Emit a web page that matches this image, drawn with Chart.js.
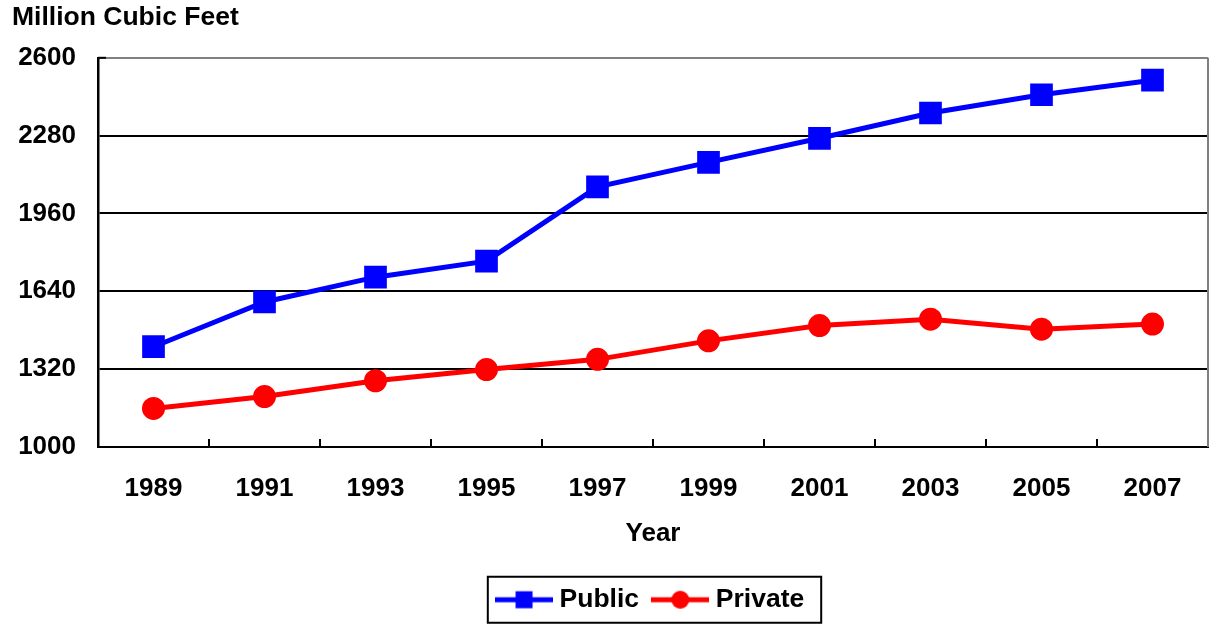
<!DOCTYPE html>
<html>
<head>
<meta charset="utf-8">
<script src="https://cdn.jsdelivr.net/npm/chart.js@4.4.0/dist/chart.umd.min.js"></script>
<style>
    html, body { margin: 0; padding: 0; background: #fff; }
</style>
</head>
<body>
<canvas id="chart" width="1209" height="624"></canvas>
<script>
// =====================================================
// DATA
// =====================================================
const years = ['1989', '1991', '1993', '1995', '1997', '1999', '2001', '2003', '2005', '2007'];
const publicValues = [1412, 1596, 1698, 1764, 2069, 2170, 2269, 2373, 2448, 2508];
const privateValues = [1158, 1207, 1272, 1318, 1360, 1436, 1499, 1525, 1484, 1505];
const yMin = 1000;
const yMax = 2600;
const yStep = 320;

const FONT = 'Liberation Sans, Arial, sans-serif';

// small canvas with line + marker, used as legend symbol
function legendSample(color, shape) {
    let c = document.createElement('canvas');
    c.width = 58;
    c.height = 20;
    let ctx = c.getContext('2d');
    ctx.strokeStyle = color;
    ctx.fillStyle = color;
    ctx.lineWidth = 5;
    ctx.beginPath();
    ctx.moveTo(0, 10);
    ctx.lineTo(58, 10);
    ctx.stroke();
    if (shape === 'rect') {
        ctx.fillRect(20.5, 1.5, 17, 17);
    } else {
        ctx.beginPath();
        ctx.arc(29, 10, 9, 0, Math.PI * 2);
        ctx.fill();
    }
    return c;
}

// =====================================================
// FRAME: gray right border, inside tick marks, legend box
// =====================================================
const framePlugin = {
    id: 'frame',
    beforeDatasetsDraw(chart) {
        let ctx = chart.ctx;
        let area = chart.chartArea;
        let x = chart.scales.x;
        let y = chart.scales.y;

        ctx.save();
        ctx.strokeStyle = '#808080';
        ctx.lineWidth = 2;
        ctx.beginPath();
        ctx.moveTo(area.right, area.top);
        ctx.lineTo(area.right, area.bottom);
        ctx.stroke();

        ctx.strokeStyle = '#000';
        ctx.lineWidth = 2;
        let half = (x.getPixelForTick(1) - x.getPixelForTick(0)) / 2;
        for (let i = 1; i < years.length; i++) {
            let px = x.getPixelForTick(i) - half;
            ctx.beginPath();
            ctx.moveTo(px, area.bottom);
            ctx.lineTo(px, area.bottom - 8);
            ctx.stroke();
        }
        let top = y.getPixelForValue(yMax);
        ctx.beginPath();
        ctx.moveTo(area.left, top);
        ctx.lineTo(area.left + 8, top);
        ctx.stroke();
        ctx.restore();
    },
    afterDraw(chart) {
        let boxes = chart.legend.legendHitBoxes;
        if (!boxes || !boxes.length) return;
        let first = boxes[0];
        let last = boxes[boxes.length - 1];
        let cy = first.top + first.height / 2;
        let ctx = chart.ctx;
        ctx.save();
        ctx.strokeStyle = '#000';
        ctx.lineWidth = 2;
        ctx.strokeRect(first.left - 14, cy - 23, last.left + last.width + 17 - (first.left - 14), 46);
        ctx.restore();
    }
};

// =====================================================
// CHART
// =====================================================
new Chart(document.getElementById('chart'), {
    type: 'line',
    data: {
        labels: years,
        datasets: [
            {
                label: 'Public',
                data: publicValues,
                borderColor: '#0000FF',
                backgroundColor: '#0000FF',
                borderWidth: 5,
                pointStyle: 'rect',
                pointRadius: 12.5,
                pointHoverRadius: 12.5,
                tension: 0
            },
            {
                label: 'Private',
                data: privateValues,
                borderColor: '#FF0000',
                backgroundColor: '#FF0000',
                borderWidth: 5,
                pointStyle: 'circle',
                pointRadius: 9,
                pointHoverRadius: 9,
                tension: 0
            }
        ]
    },
    options: {
        responsive: false,
        animation: false,
        devicePixelRatio: 1,
        layout: {
            autoPadding: false,
            padding: { left: 12, right: 1, top: 0, bottom: 1 }
        },
        plugins: {
            title: {
                display: true,
                text: 'Million Cubic Feet',
                align: 'start',
                color: '#000',
                font: { family: FONT, size: 26.5, weight: 'bold' },
                padding: { top: 2, bottom: 24 }
            },
            legend: {
                position: 'bottom',
                fullSize: false,
                labels: {
                    usePointStyle: true,
                    pointStyleWidth: 44.5,
                    padding: 19,
                    color: '#000',
                    font: { family: FONT, size: 26.5, weight: 'bold' },
                    generateLabels: function () {
                        return [
                            { text: 'Public', pointStyle: legendSample('#0000FF', 'rect'), fontColor: '#000', lineWidth: 0, strokeStyle: 'rgba(0,0,0,0)', fillStyle: 'rgba(0,0,0,0)', datasetIndex: 0, hidden: false },
                            { text: 'Private', pointStyle: legendSample('#FF0000', 'circle'), fontColor: '#000', lineWidth: 0, strokeStyle: 'rgba(0,0,0,0)', fillStyle: 'rgba(0,0,0,0)', datasetIndex: 1, hidden: false }
                        ];
                    }
                }
            },
            tooltip: { enabled: false }
        },
        scales: {
            x: {
                offset: true,
                afterFit: function (scale) {
                    scale.paddingLeft = 0;
                    scale.paddingRight = 0;
                    scale.height = 120.6;
                },
                grid: {
                    offset: true,
                    drawOnChartArea: false,
                    drawTicks: false
                },
                border: { color: '#000', width: 2 },
                ticks: {
                    color: '#000',
                    padding: 26,
                    maxRotation: 0,
                    font: { family: FONT, size: 26, weight: 'bold' }
                },
                title: {
                    display: true,
                    text: 'Year',
                    color: '#000',
                    font: { family: FONT, size: 26, weight: 'bold' },
                    padding: { top: 0, bottom: 18 }
                }
            },
            y: {
                min: yMin,
                max: yMax,
                afterFit: function (scale) {
                    scale.width = 86;
                },
                grid: {
                    drawTicks: false,
                    lineWidth: 2,
                    color: function (ctx) {
                        return ctx.tick && ctx.tick.value === yMax ? '#808080' : '#000';
                    }
                },
                border: { color: '#000', width: 2.5 },
                ticks: {
                    stepSize: yStep,
                    color: '#000',
                    padding: 22,
                    font: { family: FONT, size: 26, weight: 'bold' },
                    callback: function (value) {
                        return String(value);
                    }
                }
            }
        }
    },
    plugins: [framePlugin]
});
</script>
</body>
</html>
